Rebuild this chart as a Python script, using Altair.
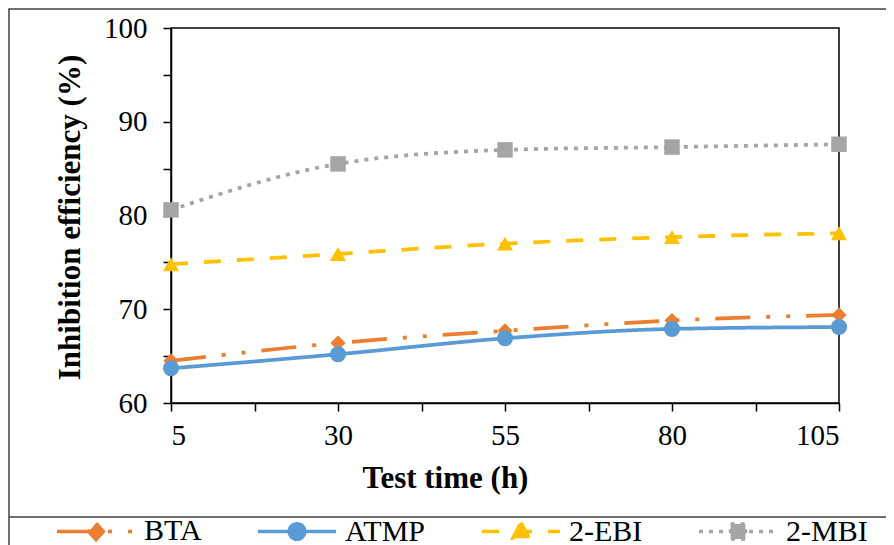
import altair as alt
import pandas as pd

times = [5, 30, 55, 80, 105]
series = ["BTA", "ATMP", "2-EBI", "2-MBI"]
bta = [64.5, 66.4, 67.7, 68.8, 69.4]
atmp = [63.7, 65.2, 66.9, 67.9, 68.1]
ebi = [74.8, 75.9, 77.0, 77.7, 78.1]
mbi = [80.6, 85.5, 87.0, 87.3, 87.6]

colors = ["#ED7D31", "#5B9BD5", "#FFC000", "#A5A5A5"]
shapes = ["diamond", "circle", "triangle-up", "square"]
marker_sizes = [230, 260, 260, 240]
dashes = [[35, 16, 4, 16, 4, 16], [1, 0], [17, 16], [4, 6]]

y_ticks = [60, 65, 70, 75, 80, 85, 90, 95, 100]
x_ticks = [5, 17.5, 30, 42.5, 55, 67.5, 80, 92.5, 105]

rows = []
for name, vals in zip(series, [bta, atmp, ebi, mbi]):
    for t, v in zip(times, vals):
        rows.append({"time": t, "eff": v, "series": name})
df = pd.DataFrame(rows)

FONT = "Liberation Serif"

legend_paths = {
    "BTA": "M-1,0H1M0,-0.21L0.19,0L0,0.21L-0.19,0Z",
    "ATMP": "M-1,0H1M-0.2,0A0.2,0.2 0 1 0 0.2,0A0.2,0.2 0 1 0 -0.2,0Z",
    "2-EBI": "M-1,0H1M0,-0.23L0.21,0.17L-0.21,0.17Z",
    "2-MBI": "M-1,0H1M-0.19,-0.19H0.19V0.19H-0.19Z",
}
shape_expr = "".join(
    f"datum.value == '{k}' ? '{v}' : " for k, v in legend_paths.items()
) + "'circle'"

legend = alt.Legend(
    title=None,
    orient="none",
    direction="horizontal",
    columns=4,
    columnPadding=49,
    legendX=-116,
    legendY=462,
    padding=0,
    symbolSize=6084,
    symbolStrokeWidth=3.5,
    symbolType=alt.ExprRef(expr=shape_expr),
    symbolFillColor=alt.ExprRef(expr="scale('color', datum.value)"),
    symbolStrokeColor=alt.ExprRef(expr="scale('color', datum.value)"),
    symbolOpacity=1,
    labelFont=FONT,
    labelFontSize=30,
    labelColor="black",
    labelOffset=7,
    labelLimit=300,
)

color_scale = alt.Scale(domain=series, range=colors)
x_enc = alt.X(
    "time:Q",
    scale=alt.Scale(domain=[5, 105], nice=False),
    axis=alt.Axis(
        values=x_ticks,
        labelExpr="datum.value % 25 == 5 ? datum.label : ''",
        title="Test time (h)",
        titleX=274,
        titleY=75,
        titleBaseline="middle",
        titleAlign="center",
    ),
)
y_enc = alt.Y(
    "eff:Q",
    scale=alt.Scale(domain=[60, 100], nice=False),
    axis=alt.Axis(
        values=y_ticks,
        labelExpr="datum.value % 10 == 0 ? datum.label : ''",
        title="Inhibition efficiency (%)",
        titleX=-101,
        titleY=189,
        titleAngle=270,
        titleBaseline="middle",
        titleAlign="center",
        labelPadding=16,
    ),
)

lines = alt.Chart(df).mark_line(
    interpolate="monotone", strokeWidth=3.75
).encode(
    x=x_enc,
    y=y_enc,
    color=alt.Color("series:N", scale=color_scale, legend=legend),
    strokeDash=alt.StrokeDash(
        "series:N", scale=alt.Scale(domain=series, range=dashes), legend=legend
    ),
    detail="series:N",
)

point_layers = []
for name, col, shp, sz in zip(series, colors, shapes, marker_sizes):
    point_layers.append(
        alt.Chart(df)
        .transform_filter(alt.datum.series == name)
        .mark_point(filled=True, opacity=1, size=sz, shape=shp, color=col)
        .encode(x="time:Q", y="eff:Q")
    )

frame_data = alt.Data(values=[{"k": 1}])
frame = alt.Chart(frame_data).mark_rect(
    fill=None, fillOpacity=0, stroke="#404040", strokeWidth=1.5
).encode(
    x=alt.value(-162), x2=alt.value(900), y=alt.value(-19), y2=alt.value(600)
)
sep = alt.Chart(frame_data).mark_rule(stroke="#404040", strokeWidth=1.5).encode(
    x=alt.value(-162), x2=alt.value(900), y=alt.value(489)
)

chart = (
    alt.layer(frame, sep, lines, *point_layers)
    .properties(
        width=668,
        height=375,
        autosize=alt.AutoSizeParams(type="none"),
        padding={"left": 163, "top": 20, "right": 47, "bottom": 170},
        background="white",
    )
    .configure_view(stroke="black", strokeWidth=1.5)
    .configure_axis(
        grid=False,
        domainColor="black",
        domainWidth=1.5,
        tickColor="black",
        tickWidth=1.5,
        tickSize=8,
        labelFont=FONT,
        labelFontSize=29,
        labelColor="black",
        titleFont=FONT,
        titleFontSize=31,
        titleFontWeight="bold",
        titleColor="black",
        labelPadding=10,
    )
)

chart.save("out.html", embed_options={"renderer": "svg", "actions": False})
